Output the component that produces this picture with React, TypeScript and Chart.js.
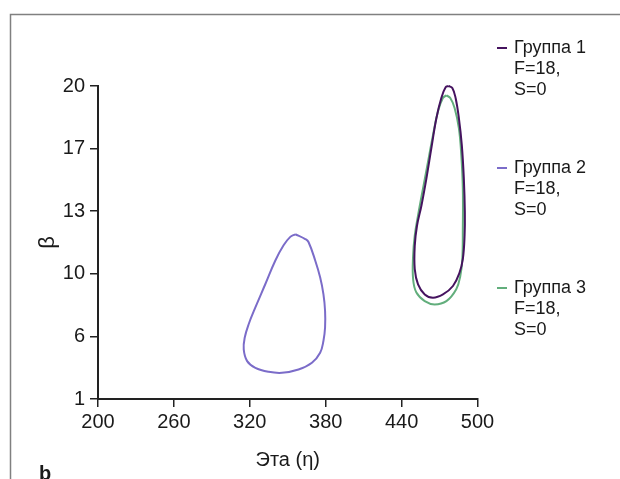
import { useEffect, useRef } from "react";
import { Chart, registerables } from "chart.js";

Chart.register(...registerables);

const X_MIN = 200;
const X_MAX = 500;
const X_STEP = 60;
const Y_MIN = 1;
const Y_MAX = 20;
const Y_TICK_LABELS = ["1", "6", "10", "13", "17", "20"];
const X_TITLE = "Эта (η)";
const Y_TITLE = "β";
const PANEL_LABEL = "b";

const SERIES_NAMES = ["Группа 1", "Группа 2", "Группа 3"];
const SERIES_NOTES = ["F=18,", "S=0"];
const SERIES_COLORS = ["#45135f", "#7b6cc9", "#62ae7c"];

const G1_ETA = [477.2, 480.1, 482.7, 485.3, 487.6, 489.2, 490.0, 489.8, 488.4, 485.8, 480.6, 472.7, 464.8, 458.3, 453.0, 450.4, 450.4, 452.2, 455.7, 459.6, 463.5, 467.5, 471.4, 474.8, 477.2];
const G1_BETA = [20.0, 19.88, 19.27, 18.04, 16.41, 14.38, 12.34, 10.92, 9.49, 8.68, 7.86, 7.35, 7.15, 7.35, 7.96, 8.88, 10.3, 11.53, 12.75, 14.38, 16.21, 18.04, 19.27, 19.92, 20.0];

const G2_ETA = [355.9, 363.8, 366.4, 371.7, 375.6, 378.2, 379.5, 379.5, 378.2, 375.6, 369.1, 358.5, 345.4, 334.9, 324.4, 317.9, 315.2, 316.0, 319.1, 324.4, 332.3, 340.2, 346.7, 352.0, 355.9];
const G2_BETA = [11.0, 10.71, 10.53, 9.41, 8.39, 7.37, 6.36, 5.34, 4.52, 3.81, 3.2, 2.79, 2.59, 2.65, 2.89, 3.3, 4.01, 4.73, 5.54, 6.56, 7.98, 9.41, 10.33, 10.84, 11.0];

const G3_ETA = [475.4, 478.5, 481.9, 485.3, 487.2, 488.4, 488.4, 488.0, 486.4, 483.2, 475.4, 466.1, 458.3, 451.7, 449.1, 449.1, 450.4, 453.0, 456.9, 460.9, 464.8, 468.7, 472.6, 475.4];
const G3_BETA = [19.43, 19.27, 18.66, 17.43, 15.8, 13.77, 11.32, 9.49, 8.47, 7.66, 6.94, 6.74, 6.94, 7.46, 8.27, 9.69, 10.92, 12.14, 13.77, 15.4, 17.02, 18.45, 19.27, 19.43];

const SERIES_ETA = [G1_ETA, G2_ETA, G3_ETA];
const SERIES_BETA = [G1_BETA, G2_BETA, G3_BETA];

const FONT = '"Liberation Sans", Arial, sans-serif';
const TEXT_COLOR = "#1a1a1a";
const AXIS_COLOR = "#222222";

const sideLegend = {
  id: "sideLegend",
  afterDraw(chart: any) {
    const ctx = chart.ctx;
    ctx.save();
    ctx.strokeStyle = "#808080";
    ctx.lineWidth = 1.5;
    ctx.beginPath();
    ctx.moveTo(10.5, 479);
    ctx.lineTo(10.5, 14.5);
    ctx.lineTo(620, 14.5);
    ctx.stroke();

    ctx.fillStyle = TEXT_COLOR;
    ctx.font = `bold 20px ${FONT}`;
    ctx.textBaseline = "alphabetic";
    ctx.textAlign = "left";
    ctx.fillText(PANEL_LABEL, 39, 480);

    chart.data.datasets.forEach((ds: any, i: number) => {
      const y = 48 + i * 120;
      ctx.strokeStyle = ds.borderColor;
      ctx.lineWidth = 2;
      ctx.beginPath();
      ctx.moveTo(497, y);
      ctx.lineTo(507, y);
      ctx.stroke();
      ctx.fillStyle = TEXT_COLOR;
      ctx.font = `18px ${FONT}`;
      ctx.textBaseline = "middle";
      [ds.label, ...SERIES_NOTES].forEach((t: string, j: number) => {
        ctx.fillText(t, 514, y + j * 21);
      });
    });
    ctx.restore();
  },
};

export default function App() {
  const ref = useRef<HTMLCanvasElement | null>(null);

  useEffect(() => {
    if (!ref.current) return;
    const yStep = (Y_MAX - Y_MIN) / (Y_TICK_LABELS.length - 1);
    const chart = new Chart(ref.current, {
      type: "scatter",
      data: {
        datasets: SERIES_NAMES.map((name, i) => ({
          label: name,
          data: SERIES_ETA[i].map((x, k) => ({ x, y: SERIES_BETA[i][k] })),
          showLine: true,
          borderColor: SERIES_COLORS[i],
          backgroundColor: SERIES_COLORS[i],
          borderWidth: 2,
          pointRadius: 0,
          tension: 0.4,
          fill: false,
          clip: false as any,
        })),
      },
      options: {
        animation: false,
        responsive: false,
        devicePixelRatio: 1,
        layout: { padding: { top: 86, right: 142.5, bottom: 0, left: 0 } },
        plugins: {
          legend: { display: false },
          tooltip: { enabled: false },
        },
        scales: {
          x: {
            type: "linear",
            min: X_MIN,
            max: X_MAX,
            ticks: {
              stepSize: X_STEP,
              color: TEXT_COLOR,
              font: { family: FONT, size: 20 },
              padding: 3,
              maxRotation: 0,
            },
            grid: {
              display: true,
              drawOnChartArea: false,
              drawTicks: true,
              tickLength: 8,
              color: AXIS_COLOR,
              lineWidth: 1.5,
            },
            border: { display: true, color: AXIS_COLOR, width: 2 },
            title: {
              display: true,
              text: X_TITLE,
              color: TEXT_COLOR,
              font: { family: FONT, size: 20 },
              padding: { top: 0, bottom: 7 },
            },
            afterFit: (s: any) => {
              s.height = 80;
            },
          },
          y: {
            type: "linear",
            min: Y_MIN,
            max: Y_MAX,
            afterBuildTicks: (s: any) => {
              s.ticks = Y_TICK_LABELS.map((_, i) => ({ value: Y_MIN + i * yStep }));
            },
            ticks: {
              color: TEXT_COLOR,
              font: { family: FONT, size: 20 },
              padding: 5,
              callback: (_v: any, i: number) => Y_TICK_LABELS[i],
            },
            grid: {
              display: true,
              drawOnChartArea: false,
              drawTicks: true,
              tickLength: 8,
              color: AXIS_COLOR,
              lineWidth: 1.5,
            },
            border: { display: true, color: AXIS_COLOR, width: 2 },
            title: {
              display: true,
              text: Y_TITLE,
              color: TEXT_COLOR,
              font: { family: FONT, size: 22 },
              padding: { top: 35, bottom: 0 },
            },
            afterFit: (s: any) => {
              s.width = 98;
            },
          },
        },
      },
      plugins: [sideLegend],
    });
    return () => chart.destroy();
  }, []);

  return (
    <div style={{ position: "absolute", left: 0, top: 0, width: 620, height: 479, background: "#fff" }}>
      <canvas ref={ref} width={620} height={479} style={{ display: "block", width: 620, height: 479 }} />
    </div>
  );
}
